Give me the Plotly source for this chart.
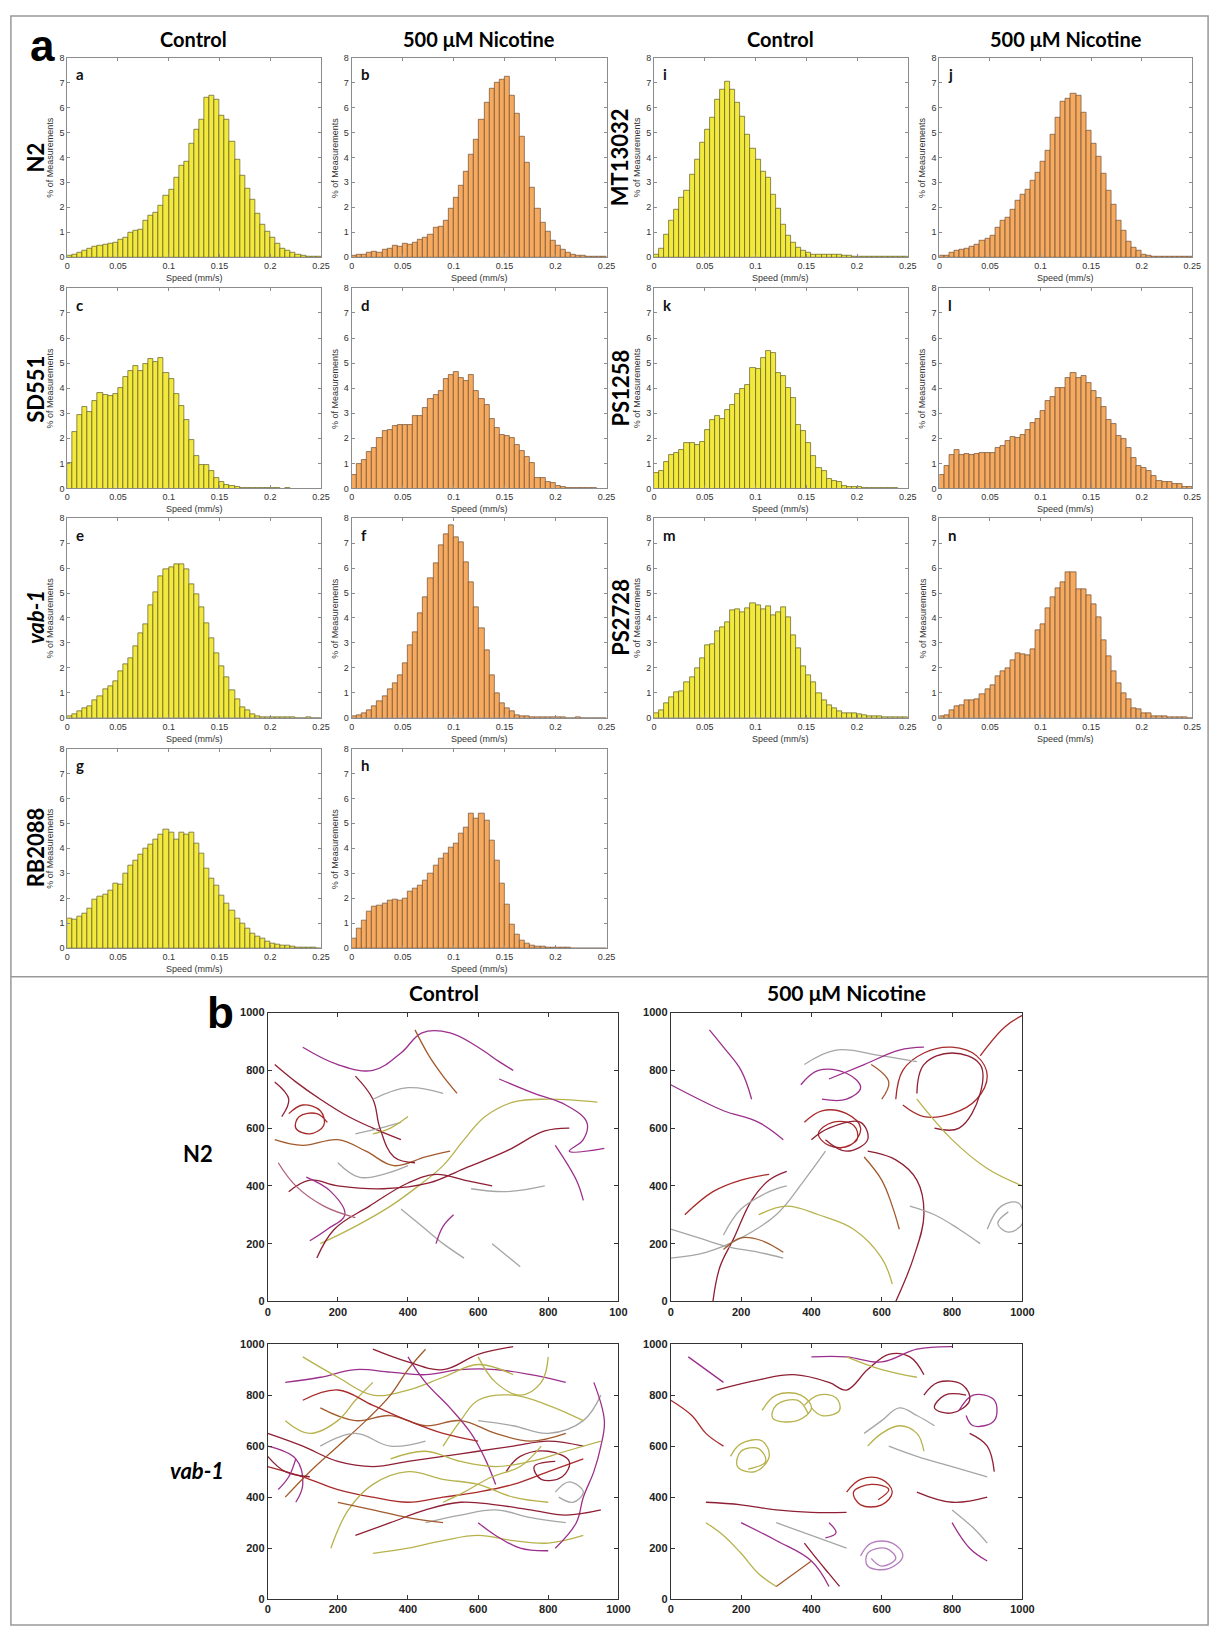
import plotly.graph_objects as go

W, H = 1227, 1634

# ---------------- DATA ----------------
SPEED_EDGES = [i * 0.005 for i in range(51)]
X_TICKS = [0, 0.05, 0.1, 0.15, 0.2, 0.25]
X_TICKTEXT = ["0", "0.05", "0.1", "0.15", "0.2", "0.25"]
Y_TICKS = [0, 1, 2, 3, 4, 5, 6, 7, 8]

HIST_N2_CTRL = [0.07,0.1,0.2,0.25,0.35,0.42,0.47,0.5,0.55,0.6,
                0.72,0.78,1.0,1.05,1.12,1.48,1.65,1.8,2.05,2.45,
                2.72,3.2,3.68,3.85,4.55,5.12,5.52,6.4,6.47,6.3,
                5.67,5.5,4.65,3.9,3.25,2.75,2.32,1.75,1.3,1.02,
                0.8,0.53,0.33,0.25,0.2,0.12,0.08,0.04,0.02,0.01]
HIST_N2_NIC = [0.08,0.1,0.12,0.18,0.22,0.2,0.32,0.35,0.45,0.42,
               0.55,0.5,0.6,0.7,0.8,0.9,1.2,1.22,1.45,1.95,
               2.38,2.88,3.42,4.12,4.7,5.5,6.18,6.75,6.98,7.1,
               7.25,6.48,5.75,4.85,3.78,2.8,1.95,1.4,1.02,0.68,
               0.45,0.3,0.2,0.1,0.08,0.05,0.03,0.02,0.01,0.01]
HIST_SD551_CTRL = [1.0,2.25,2.95,3.25,3.05,3.48,3.8,3.75,3.68,3.78,
                   4.0,4.45,4.7,4.9,4.68,4.95,5.18,5.05,5.22,4.6,
                   4.38,3.78,3.28,2.75,1.95,1.28,0.95,0.95,0.7,0.42,
                   0.28,0.15,0.12,0.05,0.03,0.02,0.02,0.01,0.01,0.01,
                   0.01,0.01,0.0,0.01,0.0,0.0,0.0,0.0,0.0,0.0]
HIST_SD551_NIC = [0.55,0.98,1.15,1.45,1.6,2.0,2.28,2.35,2.48,2.55,
                  2.52,2.52,2.9,2.88,3.22,3.58,3.72,3.88,4.38,4.52,
                  4.65,4.42,4.3,4.52,3.9,3.58,3.35,2.78,2.4,2.15,
                  2.1,2.02,1.75,1.48,1.25,1.02,0.42,0.4,0.25,0.22,
                  0.12,0.05,0.03,0.02,0.01,0.01,0.01,0.01,0.0,0.0]
HIST_VAB1_CTRL = [0.05,0.15,0.25,0.4,0.48,0.7,0.85,1.15,1.28,1.45,
                  1.88,2.15,2.38,2.85,3.38,3.75,4.52,5.05,5.68,5.95,
                  6.05,6.15,6.15,5.95,5.35,4.95,4.42,3.78,3.18,2.6,
                  2.05,1.62,1.1,0.75,0.42,0.32,0.15,0.08,0.03,0.02,
                  0.02,0.01,0.01,0.01,0.01,0.0,0.0,0.01,0.0,0.0]
HIST_VAB1_NIC = [0.08,0.12,0.2,0.32,0.45,0.68,0.85,1.15,1.4,1.72,
                 2.18,2.92,3.42,4.2,4.85,5.58,6.18,6.92,7.35,7.72,
                 7.25,7.02,6.25,5.45,4.45,3.58,2.7,1.7,1.0,0.58,
                 0.38,0.28,0.12,0.08,0.05,0.03,0.02,0.01,0.01,0.01,
                 0.01,0.01,0.0,0.0,0.01,0.0,0.0,0.0,0.0,0.0]
HIST_RB2088_CTRL = [1.2,1.15,1.25,1.4,1.6,1.95,2.05,2.15,2.3,2.6,
                    2.55,3.0,3.3,3.5,3.75,4.0,4.15,4.35,4.55,4.75,
                    4.65,4.35,4.65,4.55,4.65,4.2,3.8,3.2,2.8,2.5,
                    2.1,1.8,1.5,1.2,1.0,0.8,0.6,0.45,0.4,0.28,
                    0.2,0.15,0.12,0.1,0.06,0.04,0.02,0.01,0.01,0.0]
HIST_RB2088_NIC = [0.4,0.8,1.1,1.45,1.65,1.7,1.8,1.9,1.95,1.9,
                   2.0,2.25,2.4,2.5,2.7,3.0,3.3,3.6,3.8,4.05,
                   4.2,4.6,4.85,5.4,5.2,5.4,5.1,4.3,3.5,2.6,
                   1.75,0.95,0.55,0.3,0.2,0.12,0.08,0.05,0.03,0.02,
                   0.01,0.01,0.01,0.0,0.0,0.0,0.0,0.0,0.0,0.0]
HIST_MT13032_CTRL = [0.1,0.35,0.92,1.45,1.92,2.4,2.65,3.32,3.9,4.58,
                     5.1,5.58,6.32,6.72,7.05,6.72,6.18,5.62,4.92,4.35,
                     3.92,3.42,3.2,2.5,1.95,1.32,0.85,0.58,0.38,0.25,
                     0.18,0.12,0.1,0.1,0.12,0.12,0.1,0.08,0.05,0.04,
                     0.02,0.03,0.02,0.01,0.01,0.01,0.01,0.01,0.01,0.01]
HIST_MT13032_NIC = [0.05,0.08,0.2,0.25,0.3,0.35,0.42,0.5,0.65,0.75,
                    0.88,1.18,1.48,1.58,1.92,2.25,2.5,2.72,3.08,3.38,
                    3.82,4.28,4.92,5.6,6.22,6.35,6.55,6.48,5.78,5.08,
                    4.55,4.02,3.35,2.65,2.12,1.48,1.05,0.62,0.4,0.25,
                    0.1,0.08,0.04,0.02,0.01,0.01,0.01,0.01,0.01,0.01]
HIST_PS1258_CTRL = [0.6,0.7,1.05,1.32,1.4,1.52,1.82,1.8,1.72,1.85,
                    2.35,2.72,2.9,2.78,3.12,3.35,3.78,3.98,4.15,4.82,
                    4.78,5.22,5.5,5.42,4.62,4.48,4.02,3.6,2.52,2.28,
                    1.82,1.3,0.82,0.68,0.38,0.32,0.25,0.12,0.08,0.05,
                    0.05,0.02,0.02,0.01,0.01,0.01,0.01,0.01,0.0,0.0]
HIST_PS1258_NIC = [0.55,0.9,1.35,1.52,1.35,1.38,1.35,1.38,1.42,1.42,
                   1.42,1.62,1.7,1.88,2.05,2.02,2.12,2.35,2.6,2.78,
                   3.08,3.5,3.65,4.0,4.02,4.42,4.6,4.4,4.5,4.22,
                   3.88,3.6,3.25,2.75,2.58,2.08,1.98,1.62,1.2,0.9,
                   0.82,0.7,0.5,0.32,0.28,0.25,0.2,0.18,0.08,0.05]
HIST_PS2728_CTRL = [0.2,0.32,0.6,0.82,1.02,1.08,1.42,1.62,1.98,2.38,
                    2.9,2.95,3.45,3.62,3.85,4.3,4.35,4.25,4.38,4.6,
                    4.52,4.35,4.48,4.12,4.22,4.42,4.02,3.3,2.78,2.05,
                    1.72,1.42,1.0,0.72,0.52,0.38,0.25,0.2,0.18,0.18,
                    0.15,0.12,0.08,0.05,0.05,0.03,0.02,0.01,0.01,0.01]
HIST_PS2728_NIC = [0.05,0.12,0.32,0.45,0.5,0.7,0.7,0.75,0.95,1.15,
                   1.32,1.65,1.85,2.0,2.3,2.6,2.55,2.5,2.75,3.5,
                   3.75,4.4,4.85,5.2,5.42,5.82,5.82,5.15,5.15,4.9,
                   4.55,4.02,3.12,2.45,1.88,1.38,1.0,0.75,0.4,0.35,
                   0.2,0.2,0.08,0.06,0.05,0.02,0.02,0.01,0.01,0.0]

TRAJ_TICKS = [0, 200, 400, 600, 800, 1000]
TRAJ_TICKTEXT = ["0", "200", "400", "600", "800", "1000"]
TRAJ_TICKTEXT_CLIPPED = ["0", "200", "400", "600", "800", "100"]

# worm tracks (x, y in pixels of the arena)
N2_CTRL_TRACKS = [
    ("olive", [(150,200),(250,260),(350,330),(430,400),(500,470),(560,560),(620,640),(700,690),(800,700),(940,690)]),
    ("maroon", [(140,150),(190,250),(290,330),(400,410),(480,440),(560,420),(640,400)]),
    ("maroon", [(60,380),(120,420),(200,400),(330,390),(460,410),(560,460),(680,520),(790,590),(860,600)]),
    ("purple", [(100,880),(200,820),(300,800),(380,860),(440,930),(520,930),(600,880),(660,830),(700,800)]),
    ("purple", [(660,770),(760,720),(850,680),(910,620),(900,560),(860,520),(960,530)]),
    ("maroon", [(20,820),(80,760),(150,700),(230,640),(300,600),(380,560)]),
    ("darkred", [(60,650),(100,680),(150,660),(160,610),(120,580),(80,600),(90,640),(140,650),(170,620)]),
    ("brown", [(20,560),(100,540),(200,560),(280,520),(360,470),(450,500),(520,520)]),
    ("gray", [(580,390),(680,380),(790,400)]),
    ("gray", [(640,200),(680,160),(720,120)]),
    ("gray", [(380,320),(440,260),(500,200),(560,150)]),
    ("purple", [(110,430),(180,380),(220,300),(170,250),(120,210)]),
    ("brown", [(420,940),(460,850),(500,780),(540,720)]),
    ("purple", [(480,200),(500,260),(530,300)]),
    ("maroon", [(20,760),(60,700),(40,640)]),
    ("gray", [(250,580),(320,600),(380,620)]),
    ("olive", [(300,580),(350,600),(400,640)]),
    ("maroon", [(250,780),(300,700),(320,600),(360,500),(420,480)]),
    ("purple", [(820,540),(880,420),(900,350)]),
    ("gray", [(300,700),(400,740),(500,720)]),
    ("rose", [(30,480),(80,400),(160,330),(250,290)]),
    ("gray", [(200,480),(260,430),(330,440),(400,470)]),
]

N2_NIC_TRACKS = [
    ("purple", [(0,750),(80,700),(150,660),(250,620),(320,560)]),
    ("purple", [(110,940),(150,880),(200,800),(230,700)]),
    ("darkred", [(380,620),(430,660),(500,650),(540,600),(510,540),(450,540),(420,580),(460,620),(520,610),(530,560),(480,530)]),
    ("maroon", [(400,560),(450,600),(540,620),(560,560),(500,520),(440,560)]),
    ("purple", [(370,750),(420,800),(500,790),(540,740),(500,700),(430,700)]),
    ("darkred", [(640,700),(660,800),(720,860),(800,880),(870,850),(900,780),(870,700),(800,650),(720,640),(660,680)]),
    ("maroon", [(700,720),(720,820),(800,860),(880,820),(880,720),(820,600),(750,600)]),
    ("darkred", [(880,850),(950,950),(1000,990)]),
    ("maroon", [(640,0),(690,150),(720,300),(700,420),(640,490),(560,520)]),
    ("maroon", [(120,0),(140,120),(180,220),(230,350),(280,420),(330,450)]),
    ("darkred", [(40,300),(120,380),(200,420),(280,440)]),
    ("gray", [(0,150),(100,170),(200,220),(300,300),(380,420),(440,520)]),
    ("gray", [(0,250),(80,220),(160,190),(250,170),(320,150)]),
    ("gray", [(680,330),(750,300),(820,250),(880,200)]),
    ("gray", [(900,250),(940,330),(990,340),(1000,270),(960,240),(930,270),(960,310)]),
    ("olive", [(250,300),(330,330),(420,300),(520,250),(600,150),(630,60)]),
    ("olive", [(700,700),(800,560),(900,460),(1000,400)]),
    ("brown", [(570,820),(620,760),(600,700)]),
    ("brown", [(550,500),(600,420),(630,330),(650,250)]),
    ("gray", [(380,820),(470,870),(600,850),(700,830)]),
    ("purple", [(450,770),(550,820),(650,870),(720,880)]),
    ("brown", [(150,180),(200,220),(260,210),(320,170)]),
    ("gray", [(150,230),(200,320),(280,380),(330,400)]),
]

VAB1_CTRL_TRACKS = [
    ("maroon", [(0,650),(100,600),(200,540),(300,520),(400,540),(500,560),(600,580),(700,600),(800,620),(900,600)]),
    ("darkred", [(0,520),(100,480),(200,430),(300,400),(400,380),(500,400),(600,420),(700,450),(800,500),(900,550)]),
    ("olive", [(180,200),(230,350),(300,450),(400,500),(500,470),(600,450),(700,400),(800,380)]),
    ("purple", [(50,850),(150,870),(250,900),(350,890),(450,880),(550,900),(650,900),(750,880),(850,850)]),
    ("purple", [(0,600),(80,550),(100,450),(80,380)]),
    ("olive", [(100,950),(200,870),(300,800),(400,820),(500,870),(600,920),(700,880)]),
    ("brown", [(150,750),(250,700),(350,720),(450,680),(550,700),(650,650),(750,620),(850,650)]),
    ("gray", [(600,700),(700,680),(800,650),(900,700),(950,800)]),
    ("maroon", [(680,500),(720,560),(800,580),(860,540),(840,480),(780,470),(760,520),(820,540)]),
    ("olive", [(300,180),(400,200),(500,230),(600,250),(700,230),(800,220),(900,250)]),
    ("purple", [(820,200),(880,300),(900,400),(930,500),(950,600),(960,700),(930,850)]),
    ("gray", [(450,300),(550,330),(650,350),(750,320),(850,300)]),
    ("maroon", [(250,250),(350,300),(450,350),(550,380),(650,370),(750,350),(850,330),(950,350)]),
    ("olive", [(500,600),(550,700),(600,780),(700,800),(800,760),(900,700)]),
    ("brown", [(50,400),(120,500),(200,600),(280,700),(350,800),(400,900),(450,980)]),
    ("purple", [(400,950),(450,850),(520,750),(580,650),(620,550),(650,450)]),
    ("olive", [(600,950),(650,850),(720,800),(780,850),(800,950)]),
    ("maroon", [(300,980),(400,930),(500,900),(600,960),(700,990)]),
    ("gray", [(150,600),(250,650),(350,600),(450,620)]),
    ("olive", [(50,700),(120,650),(200,700),(250,780),(300,850)]),
    ("purple", [(600,300),(650,250),(720,200),(800,190)]),
    ("maroon", [(0,560),(50,500),(120,480)]),
    ("brown", [(200,380),(300,350),(400,320),(500,300)]),
    ("gray", [(820,420),(860,460),(900,420),(870,380),(830,400)]),
    ("olive", [(500,380),(560,420),(640,480),(720,520),(780,600)]),
    ("purple", [(30,430),(60,480),(80,550)]),
    ("darkred", [(100,780),(200,820),(300,760),(400,700),(500,650),(600,620)]),
    ("olive", [(350,550),(450,580),(550,540),(650,520),(750,540),(850,580),(950,620)]),
]

VAB1_NIC_TRACKS = [
    ("olive", [(170,560),(200,610),(260,620),(280,560),(240,500),(190,520),(200,580),(250,590),(270,540),(220,510)]),
    ("olive", [(260,740),(300,800),(370,800),(400,750),(360,700),(290,710),(300,760),(360,780),(390,730)]),
    ("olive", [(380,760),(420,800),(470,790),(480,740),(430,720),(400,750)]),
    ("darkred", [(500,420),(540,470),(600,470),(630,420),(600,370),(540,370),(520,420),(570,450),(620,430),(590,390)]),
    ("lilac", [(540,170),(570,220),(630,220),(660,170),(620,120),(560,130),(560,180),(610,200),(640,160),(600,130),(570,160)]),
    ("maroon", [(720,800),(760,850),(830,840),(850,780),(800,730),(750,750),(780,800),(840,800)]),
    ("purple", [(820,740),(860,800),(920,780),(920,700),(860,680),(840,720)]),
    ("maroon", [(130,820),(250,860),(350,880),(450,850),(500,820),(560,900),(620,960),(680,950),(720,880)]),
    ("darkred", [(0,780),(60,720),(100,650),(150,600)]),
    ("maroon", [(100,380),(200,370),(300,350),(400,340),(500,340)]),
    ("olive", [(100,300),(150,250),(200,180),(250,100),(300,50)]),
    ("purple", [(200,300),(300,230),(400,150),(450,50)]),
    ("purple", [(400,950),(500,950),(600,930),(700,980),(800,990)]),
    ("olive", [(500,950),(600,900),(700,870)]),
    ("gray", [(550,650),(600,700),(650,750),(700,720),(750,680)]),
    ("gray", [(620,600),(700,560),(800,520),(900,480)]),
    ("olive", [(560,600),(600,650),(650,680),(700,650),(720,580)]),
    ("maroon", [(700,420),(800,380),(900,400)]),
    ("purple", [(800,300),(850,200),(900,150)]),
    ("gray", [(800,350),(860,280),(900,220)]),
    ("purple", [(450,300),(470,260),(440,240)]),
    ("maroon", [(380,220),(420,150),(450,100),(480,50)]),
    ("brown", [(300,50),(350,100),(400,150)]),
    ("maroon", [(850,650),(900,600),(920,500)]),
    ("purple", [(50,950),(100,900),(150,850)]),
    ("gray", [(300,300),(400,250),(500,200)]),
]

# ---------------- STYLE / LAYOUT ----------------
FILL = {"ctrl": "#f2e93c", "nic": "#f5aa5f"}
EDGE = {"ctrl": "#5c5a2a", "nic": "#6e4e34"}
TRACK_COLORS = {"olive": "#b7b24c", "maroon": "#8e1f34", "darkred": "#a82a2a",
                "purple": "#9c2f8c", "lilac": "#b57fbf", "gray": "#a6a6a6",
                "brown": "#a25a2c", "rose": "#b0607a"}

HIST_COLS = [(65, 322), (353, 611), (659, 916), (948, 1204)]
HIST_ROWS = [(52, 253), (284, 486), (516, 717), (748, 949)]

HIST_PANELS = [
    ("a", HIST_N2_CTRL, "ctrl", 0, 0), ("b", HIST_N2_NIC, "nic", 1, 0),
    ("c", HIST_SD551_CTRL, "ctrl", 0, 1), ("d", HIST_SD551_NIC, "nic", 1, 1),
    ("e", HIST_VAB1_CTRL, "ctrl", 0, 2), ("f", HIST_VAB1_NIC, "nic", 1, 2),
    ("g", HIST_RB2088_CTRL, "ctrl", 0, 3), ("h", HIST_RB2088_NIC, "nic", 1, 3),
    ("i", HIST_MT13032_CTRL, "ctrl", 2, 0), ("j", HIST_MT13032_NIC, "nic", 3, 0),
    ("k", HIST_PS1258_CTRL, "ctrl", 2, 1), ("l", HIST_PS1258_NIC, "nic", 3, 1),
    ("m", HIST_PS2728_CTRL, "ctrl", 2, 2), ("n", HIST_PS2728_NIC, "nic", 3, 2),
]

TRAJ_COLS = [(268, 623), (676, 1032)]
TRAJ_ROWS = [(1014, 1305), (1348, 1605)]
TRAJ_PANELS = [
    (N2_CTRL_TRACKS, 0, 0, TRAJ_TICKTEXT_CLIPPED), (N2_NIC_TRACKS, 1, 0, TRAJ_TICKTEXT),
    (VAB1_CTRL_TRACKS, 0, 1, TRAJ_TICKTEXT), (VAB1_NIC_TRACKS, 1, 1, TRAJ_TICKTEXT),
]

TICK_FONT = "Liberation Sans, Arial, sans-serif"
TITLE_FONT = "Lato, Open Sans, sans-serif"


def px(x):
    return x / W


def py(y):
    return 1 - y / H


fig = go.Figure()
layout = {}
annotations = []
centers = [(SPEED_EDGES[i] + SPEED_EDGES[i + 1]) / 2 for i in range(50)]
widths = [SPEED_EDGES[i + 1] - SPEED_EDGES[i] for i in range(50)]

n = 0
for letter, vals, kind, c, r in HIST_PANELS:
    n += 1
    sx = "" if n == 1 else str(n)
    l, rr = HIST_COLS[c]
    t, b = HIST_ROWS[r]
    fig.add_trace(go.Bar(x=centers, y=vals, width=widths,
                         marker=dict(color=FILL[kind], line=dict(color=EDGE[kind], width=0.7)),
                         xaxis="x" + sx, yaxis="y" + sx, showlegend=False, hoverinfo="x+y"))
    common = dict(showline=True, linecolor="#8c8c8c", linewidth=1, mirror="ticks",
                  ticks="inside", ticklen=3, tickcolor="#8c8c8c", showgrid=False,
                  zeroline=False, tickfont=dict(family=TICK_FONT, size=9, color="#333"))
    layout["xaxis" + sx] = dict(domain=[px(l), px(rr)], range=[0, 0.25], anchor="y" + sx,
                                tickvals=X_TICKS, ticktext=X_TICKTEXT, **common)
    layout["yaxis" + sx] = dict(domain=[py(b), py(t)], range=[0, 8], anchor="x" + sx,
                                tickvals=Y_TICKS, **common)
    annotations.append(dict(x=px(l + 7), y=py(t + 17), xref="paper", yref="paper",
                            text="<b>" + letter + "</b>", showarrow=False, xanchor="left",
                            yanchor="middle", font=dict(family=TITLE_FONT, size=15, color="#111")))
    annotations.append(dict(x=px(l - 17), y=py((t + b) / 2), xref="paper", yref="paper",
                            text="% of Measurements", textangle=-90, showarrow=False,
                            xanchor="center", yanchor="middle",
                            font=dict(family=TICK_FONT, size=9, color="#333")))
    annotations.append(dict(x=px((l + rr) / 2), y=py(b + 21), xref="paper", yref="paper",
                            text="Speed (mm/s)", showarrow=False,
                            xanchor="center", yanchor="middle",
                            font=dict(family=TICK_FONT, size=9, color="#333")))

for tracks, c, r, tt in TRAJ_PANELS:
    n += 1
    sx = str(n)
    l, rr = TRAJ_COLS[c]
    t, b = TRAJ_ROWS[r]
    for col, pts in tracks:
        fig.add_trace(go.Scatter(x=[p[0] for p in pts], y=[p[1] for p in pts], mode="lines",
                                 line=dict(color=TRACK_COLORS[col], width=1.3, shape="spline",
                                           smoothing=1.1),
                                 xaxis="x" + sx, yaxis="y" + sx, showlegend=False,
                                 hoverinfo="skip"))
    common = dict(showline=True, linecolor="#333", linewidth=1, mirror="ticks",
                  ticks="inside", ticklen=4, tickcolor="#333", showgrid=False,
                  zeroline=False, range=[0, 1000], tickvals=TRAJ_TICKS,
                  tickfont=dict(family=TICK_FONT, size=11, color="#222", weight="bold"))
    layout["xaxis" + sx] = dict(domain=[px(l), px(rr)], anchor="y" + sx, ticktext=tt, **common)
    layout["yaxis" + sx] = dict(domain=[py(b), py(t)], anchor="x" + sx, ticktext=TRAJ_TICKTEXT,
                                **common)


def label(x, y, text, size, angle=0, family=TITLE_FONT):
    annotations.append(dict(x=px(x), y=py(y), xref="paper", yref="paper", text=text,
                            textangle=angle, showarrow=False, xanchor="center", yanchor="middle",
                            font=dict(family=family, size=size, color="#000")))


label(40, 40, "<b>a</b>", 44, family=TICK_FONT)
label(193, 33, "<b>Control</b>", 20)
label(482, 33, "<b>500 μM Nicotine</b>", 20)
label(787, 33, "<b>Control</b>", 20)
label(1076, 33, "<b>500 μM Nicotine</b>", 20)
label(33, 153, "<b>N2</b>", 22, -90)
label(33, 386, "<b>SD551</b>", 22, -90)
label(33, 616, "<b><i>vab-1</i></b>", 22, -90)
label(33, 848, "<b>RB2088</b>", 22, -90)
label(625, 152, "<b>MT13032</b>", 22, -90)
label(625, 385, "<b>PS1258</b>", 22, -90)
label(625, 616, "<b>PS2728</b>", 22, -90)

label(220, 1014, "<b>b</b>", 44, family=TICK_FONT)
label(446, 994, "<b>Control</b>", 21)
label(854, 994, "<b>500 μM Nicotine</b>", 21)
label(197, 1156, "<b>N2</b>", 22)
label(196, 1475, "<b><i>vab-1</i></b>", 22)

shapes = [
    dict(type="rect", xref="paper", yref="paper", x0=px(8), x1=px(1220), y0=py(1631), y1=py(10),
         line=dict(color="#999", width=1.5)),
    dict(type="line", xref="paper", yref="paper", x0=px(8), x1=px(1220), y0=py(978), y1=py(978),
         line=dict(color="#999", width=1.5)),
]

fig.update_layout(width=W, height=H, margin=dict(l=0, r=0, t=0, b=0),
                  paper_bgcolor="white", plot_bgcolor="white", showlegend=False,
                  annotations=annotations, shapes=shapes, bargap=0, **layout)

fig.write_html("out.html", config={"displayModeBar": False},
               post_script="document.body.style.margin='0';")
